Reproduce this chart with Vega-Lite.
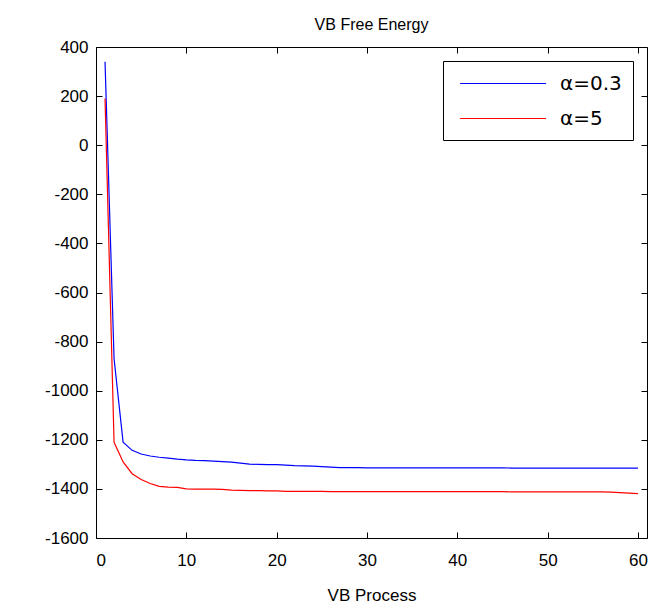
{
  "$schema": "https://vega.github.io/schema/vega-lite/v6.json",
  "width": 551,
  "height": 491,
  "padding": {"left": 44, "top": 17, "right": 5, "bottom": 5},
  "background": "white",
  "config": {
    "view": {"stroke": "black", "strokeWidth": 1},
    "font": "Liberation Sans",
    "axis": {
      "domain": false,
      "grid": false,
      "tickSize": -6,
      "tickColor": "black",
      "tickWidth": 1,
      "labelFontSize": 17,
      "labelColor": "black",
      "labelFont": "Liberation Sans",
      "titleFontSize": 17,
      "titleFontWeight": "normal",
      "titleColor": "black",
      "titleFont": "Liberation Sans"
    }
  },
  "title": {"text": "VB Free Energy", "fontSize": 16, "fontWeight": "normal", "offset": 5, "color": "black", "font": "Liberation Sans"},
  "data": {"values": [
    {"x": 1, "s": "α=0.3", "y": 340}, {"x": 2, "s": "α=0.3", "y": -870}, {"x": 3, "s": "α=0.3", "y": -1210}, {"x": 4, "s": "α=0.3", "y": -1243},
    {"x": 5, "s": "α=0.3", "y": -1258}, {"x": 6, "s": "α=0.3", "y": -1266}, {"x": 7, "s": "α=0.3", "y": -1271}, {"x": 8, "s": "α=0.3", "y": -1275},
    {"x": 9, "s": "α=0.3", "y": -1279}, {"x": 10, "s": "α=0.3", "y": -1282}, {"x": 11, "s": "α=0.3", "y": -1284}, {"x": 12, "s": "α=0.3", "y": -1285},
    {"x": 13, "s": "α=0.3", "y": -1287}, {"x": 14, "s": "α=0.3", "y": -1289}, {"x": 15, "s": "α=0.3", "y": -1291}, {"x": 16, "s": "α=0.3", "y": -1295},
    {"x": 17, "s": "α=0.3", "y": -1299}, {"x": 18, "s": "α=0.3", "y": -1300}, {"x": 19, "s": "α=0.3", "y": -1301}, {"x": 20, "s": "α=0.3", "y": -1301},
    {"x": 21, "s": "α=0.3", "y": -1303}, {"x": 22, "s": "α=0.3", "y": -1305}, {"x": 23, "s": "α=0.3", "y": -1306}, {"x": 24, "s": "α=0.3", "y": -1307},
    {"x": 25, "s": "α=0.3", "y": -1309}, {"x": 26, "s": "α=0.3", "y": -1311}, {"x": 27, "s": "α=0.3", "y": -1313}, {"x": 28, "s": "α=0.3", "y": -1313},
    {"x": 29, "s": "α=0.3", "y": -1313}, {"x": 30, "s": "α=0.3", "y": -1314}, {"x": 31, "s": "α=0.3", "y": -1314}, {"x": 32, "s": "α=0.3", "y": -1314},
    {"x": 33, "s": "α=0.3", "y": -1314}, {"x": 34, "s": "α=0.3", "y": -1314}, {"x": 35, "s": "α=0.3", "y": -1314}, {"x": 36, "s": "α=0.3", "y": -1314},
    {"x": 37, "s": "α=0.3", "y": -1314}, {"x": 38, "s": "α=0.3", "y": -1314}, {"x": 39, "s": "α=0.3", "y": -1314}, {"x": 40, "s": "α=0.3", "y": -1314},
    {"x": 41, "s": "α=0.3", "y": -1314}, {"x": 42, "s": "α=0.3", "y": -1314}, {"x": 43, "s": "α=0.3", "y": -1314}, {"x": 44, "s": "α=0.3", "y": -1314},
    {"x": 45, "s": "α=0.3", "y": -1314}, {"x": 46, "s": "α=0.3", "y": -1315}, {"x": 47, "s": "α=0.3", "y": -1315}, {"x": 48, "s": "α=0.3", "y": -1315},
    {"x": 49, "s": "α=0.3", "y": -1315}, {"x": 50, "s": "α=0.3", "y": -1315}, {"x": 51, "s": "α=0.3", "y": -1315}, {"x": 52, "s": "α=0.3", "y": -1315},
    {"x": 53, "s": "α=0.3", "y": -1315}, {"x": 54, "s": "α=0.3", "y": -1315}, {"x": 55, "s": "α=0.3", "y": -1315}, {"x": 56, "s": "α=0.3", "y": -1315},
    {"x": 57, "s": "α=0.3", "y": -1315}, {"x": 58, "s": "α=0.3", "y": -1315}, {"x": 59, "s": "α=0.3", "y": -1315}, {"x": 60, "s": "α=0.3", "y": -1315},
    {"x": 1, "s": "α=5", "y": 190}, {"x": 2, "s": "α=5", "y": -1210}, {"x": 3, "s": "α=5", "y": -1290}, {"x": 4, "s": "α=5", "y": -1338},
    {"x": 5, "s": "α=5", "y": -1362}, {"x": 6, "s": "α=5", "y": -1378}, {"x": 7, "s": "α=5", "y": -1390}, {"x": 8, "s": "α=5", "y": -1393},
    {"x": 9, "s": "α=5", "y": -1394}, {"x": 10, "s": "α=5", "y": -1400}, {"x": 11, "s": "α=5", "y": -1401}, {"x": 12, "s": "α=5", "y": -1401},
    {"x": 13, "s": "α=5", "y": -1401}, {"x": 14, "s": "α=5", "y": -1402}, {"x": 15, "s": "α=5", "y": -1405}, {"x": 16, "s": "α=5", "y": -1406},
    {"x": 17, "s": "α=5", "y": -1407}, {"x": 18, "s": "α=5", "y": -1407}, {"x": 19, "s": "α=5", "y": -1408}, {"x": 20, "s": "α=5", "y": -1408},
    {"x": 21, "s": "α=5", "y": -1410}, {"x": 22, "s": "α=5", "y": -1410}, {"x": 23, "s": "α=5", "y": -1410}, {"x": 24, "s": "α=5", "y": -1410},
    {"x": 25, "s": "α=5", "y": -1410}, {"x": 26, "s": "α=5", "y": -1411}, {"x": 27, "s": "α=5", "y": -1411}, {"x": 28, "s": "α=5", "y": -1411},
    {"x": 29, "s": "α=5", "y": -1411}, {"x": 30, "s": "α=5", "y": -1411}, {"x": 31, "s": "α=5", "y": -1411}, {"x": 32, "s": "α=5", "y": -1411},
    {"x": 33, "s": "α=5", "y": -1411}, {"x": 34, "s": "α=5", "y": -1411}, {"x": 35, "s": "α=5", "y": -1411}, {"x": 36, "s": "α=5", "y": -1411},
    {"x": 37, "s": "α=5", "y": -1411}, {"x": 38, "s": "α=5", "y": -1411}, {"x": 39, "s": "α=5", "y": -1411}, {"x": 40, "s": "α=5", "y": -1411},
    {"x": 41, "s": "α=5", "y": -1411}, {"x": 42, "s": "α=5", "y": -1411}, {"x": 43, "s": "α=5", "y": -1411}, {"x": 44, "s": "α=5", "y": -1411},
    {"x": 45, "s": "α=5", "y": -1411}, {"x": 46, "s": "α=5", "y": -1412}, {"x": 47, "s": "α=5", "y": -1412}, {"x": 48, "s": "α=5", "y": -1412},
    {"x": 49, "s": "α=5", "y": -1412}, {"x": 50, "s": "α=5", "y": -1412}, {"x": 51, "s": "α=5", "y": -1412}, {"x": 52, "s": "α=5", "y": -1412},
    {"x": 53, "s": "α=5", "y": -1412}, {"x": 54, "s": "α=5", "y": -1412}, {"x": 55, "s": "α=5", "y": -1412}, {"x": 56, "s": "α=5", "y": -1412},
    {"x": 57, "s": "α=5", "y": -1413}, {"x": 58, "s": "α=5", "y": -1415}, {"x": 59, "s": "α=5", "y": -1417}, {"x": 60, "s": "α=5", "y": -1419}
  ]},
  "layer": [
    {
      "mark": {"type": "line", "strokeWidth": 1.2},
      "encoding": {
        "x": {"field": "x", "type": "quantitative", "scale": {"domain": [0, 61], "nice": false, "zero": false},
              "axis": {"orient": "bottom", "values": [0, 10, 20, 30, 40, 50, 60], "labelPadding": 20, "title": "VB Process", "titlePadding": 19}},
        "y": {"field": "y", "type": "quantitative", "scale": {"domain": [-1600, 400], "nice": false, "zero": false},
              "axis": {"orient": "left", "values": [-1600, -1400, -1200, -1000, -800, -600, -400, -200, 0, 200, 400], "labelPadding": 14, "labelExpr": "toString(datum.value)", "title": null}},
        "color": {"field": "s", "type": "nominal", "sort": ["α=0.3", "α=5"],
                  "scale": {"domain": ["α=0.3", "α=5"], "range": ["#0000ff", "#ff0000"]},
                  "legend": {"title": null, "orient": "top-right", "offset": 14, "strokeColor": "black", "fillColor": "white", "padding": 11,
                             "symbolType": "M-0.5,0H7.5", "symbolSize": 462, "symbolStrokeWidth": 1.2, "symbolFillColor": "transparent",
                             "labelFontSize": 20, "labelFont": "DejaVu Sans", "labelColor": "black", "labelOffset": 83, "rowPadding": 13, "cornerRadius": 0}}
      }
    },
    {
      "mark": {"type": "line", "opacity": 0},
      "encoding": {
        "x": {"field": "x", "type": "quantitative", "axis": {"orient": "top", "values": [0, 10, 20, 30, 40, 50, 60], "labels": false, "title": null}},
        "y": {"field": "y", "type": "quantitative", "axis": {"orient": "right", "values": [-1600, -1400, -1200, -1000, -800, -600, -400, -200, 0, 200, 400], "labels": false, "title": null}},
        "detail": {"field": "s"}
      }
    }
  ],
  "resolve": {"axis": {"x": "independent", "y": "independent"}}
}
